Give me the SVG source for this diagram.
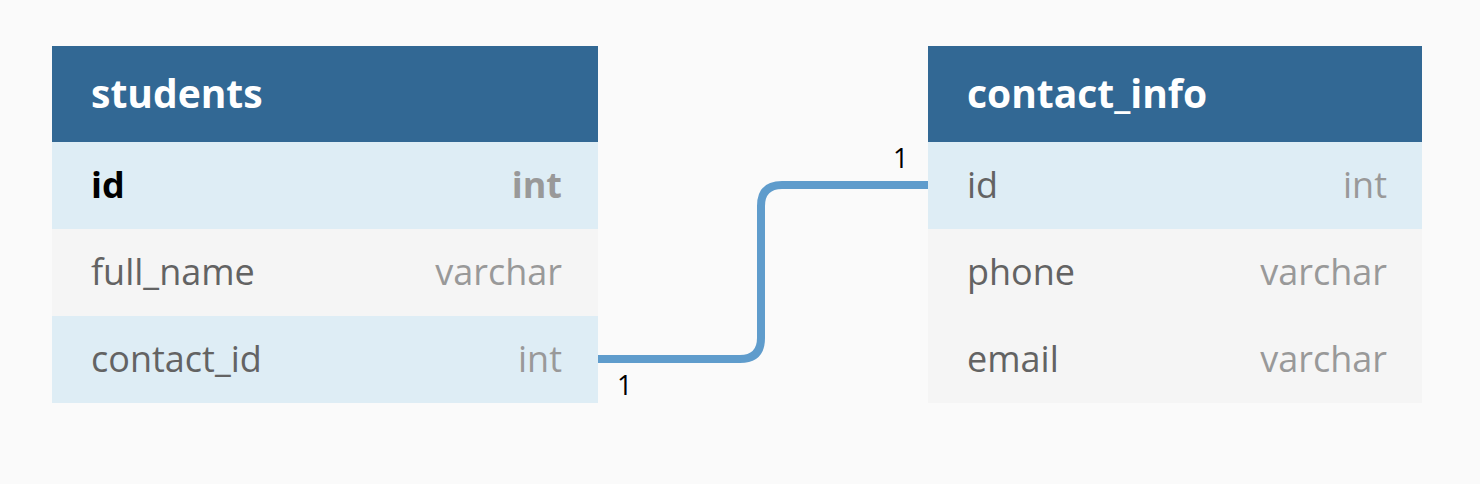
<svg xmlns="http://www.w3.org/2000/svg" width="1480" height="484" viewBox="0 0 1480 484">
<style>
.hdr{fill:#326894}
.hl{fill:#DEEDF5}
.gr{fill:#F5F5F5}
.title{font-family:"Open Sans","Noto Sans",sans-serif;font-weight:bold;font-size:39px;fill:#ffffff}
.name{font-family:"Open Sans","Noto Sans",sans-serif;font-size:36px;fill:#636363}
.type{font-family:"Open Sans","Noto Sans",sans-serif;font-size:36px;fill:#999999;text-anchor:end}
.pk{font-weight:bold;fill:#000000}
.pkt{font-weight:bold}
.card{font-family:"Open Sans","Noto Sans",sans-serif;font-size:27px;fill:#000000}
.conn{fill:none;stroke:#5F9CCC;stroke-width:8}
</style>
<rect width="1480" height="484" fill="#FAFAFA"/>
<g id="connectors">
<path class="conn" d="M598,359 H740 Q761,359 761,338 V206 Q761,185 782,185 H928"/>
<text class="card" x="617" y="395">1</text>
<text class="card" x="893" y="168">1</text>
</g>
<g id="students">
<rect class="hdr" x="52" y="46" width="546" height="96"/>
<rect class="hl" x="52" y="142" width="546" height="87"/>
<rect class="gr" x="52" y="229" width="546" height="87"/>
<rect class="hl" x="52" y="316" width="546" height="87"/>
<text class="title" x="91" y="108">students</text>
<text class="name pk" x="91" y="198">id</text>
<text class="type pkt" x="562" y="198">int</text>
<text class="name" x="91" y="285">full_name</text>
<text class="type" x="562" y="285">varchar</text>
<text class="name" x="91" y="372">contact_id</text>
<text class="type" x="562" y="372">int</text>
</g>
<g id="contact_info">
<rect class="hdr" x="928" y="46" width="494" height="96"/>
<rect class="hl" x="928" y="142" width="494" height="87"/>
<rect class="gr" x="928" y="229" width="494" height="87"/>
<rect class="gr" x="928" y="316" width="494" height="87"/>
<text class="title" x="967" y="108">contact_info</text>
<text class="name" x="967" y="198">id</text>
<text class="type" x="1387" y="198">int</text>
<text class="name" x="967" y="285">phone</text>
<text class="type" x="1387" y="285">varchar</text>
<text class="name" x="967" y="372">email</text>
<text class="type" x="1387" y="372">varchar</text>
</g>
</svg>
